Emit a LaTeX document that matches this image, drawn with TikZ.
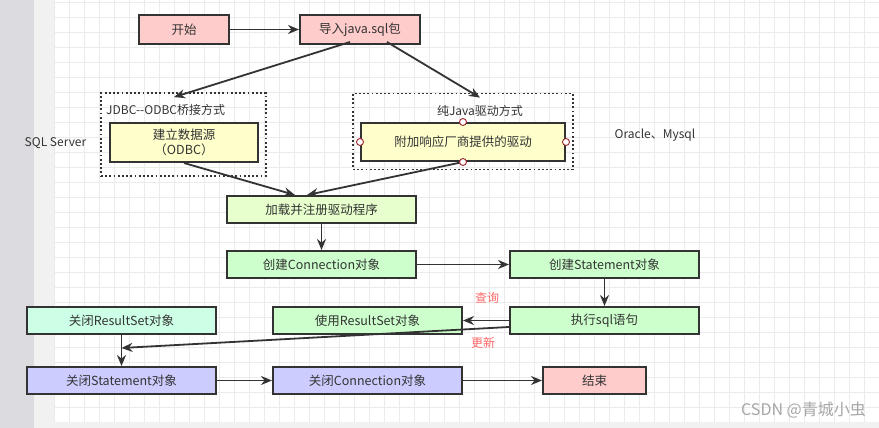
\documentclass[tikz,border=0pt]{standalone}
\usepackage{fontspec}
\setmainfont{Noto Sans CJK SC}
\usetikzlibrary{arrows.meta}

\definecolor{edge}{HTML}{333333}
\definecolor{ink}{HTML}{333333}
\definecolor{pinkbox}{HTML}{FFCCCC}
\definecolor{yellowbox}{HTML}{FFFFCC}
\definecolor{limebox}{HTML}{E6FFCC}
\definecolor{greenbox}{HTML}{CCFFCC}
\definecolor{mintbox}{HTML}{CCFFE6}
\definecolor{bluebox}{HTML}{CCCCFF}
\definecolor{redtext}{HTML}{FF6666}
\definecolor{portred}{HTML}{A0282D}
\definecolor{gridline}{HTML}{EBEBEB}
\definecolor{sidegray}{HTML}{DCDCE0}
\definecolor{paper}{HTML}{F1F1F1}

\begin{document}
\begin{tikzpicture}[x=1pt,y=-1pt,
  box/.style={draw=edge, line width=2pt, minimum width=189pt, minimum height=27pt,
    inner sep=0pt, text=ink, font=\fontsize{12.5}{15}\selectfont},
  frame/.style={draw=edge, line width=1.8pt, dash pattern=on 1.8pt off 2.4pt,
    inner sep=0pt},
  arr/.style={draw=edge, line width=1.8pt, -{Stealth[length=11pt,width=9pt]}},
  port/.style={draw=portred, fill=white, line width=0.9pt},
  note/.style={text=ink, font=\fontsize{12}{14}\selectfont, inner sep=0pt}]

% background
\useasboundingbox (0,0) rectangle (879,428);
\fill[white] (0,0) rectangle (879,428);
\foreach \x in {54.5,69.5,...,879} {
  \draw[gridline, line width=0.8pt] (\x,0) -- (\x,422);
}
\foreach \y in {2,17,...,422} {
  \draw[gridline, line width=0.8pt] (54.5,\y) -- (879,\y);
}
\fill[sidegray] (0,0) rectangle (34,428);
\fill[paper] (34,0) rectangle (54,428);
\fill[paper] (54,422) rectangle (879,428);

% dotted groups
\node[frame, minimum width=165pt, minimum height=83pt] (jdbc) at (183.5,134.5) {};
\node[frame, minimum width=220pt, minimum height=76pt] (pure) at (463,131.5) {};
\node[note, right] (jdbclbl) at (106,110) {JDBC{-}{-}ODBC桥接方式};
\node[note] (purelbl) at (480,111) {纯Java驱动方式};
\node[note] (sqlsrv) at (55.5,143) {SQL Server};
\node[note] (oracle) at (655,135) {Oracle、Mysql};

% steps
\node[box, fill=pinkbox, minimum width=90pt, minimum height=29pt] (start) at (184,29.5) {开始};
\node[box, fill=pinkbox, minimum width=120pt, minimum height=29pt] (imp) at (360,29.5) {导入java.sql包};
\node[box, fill=yellowbox, minimum width=148pt, minimum height=39pt, align=center] (odbc) at (184,142.5) {建立数据源\\（ODBC）};
\node[box, fill=yellowbox, minimum width=204pt, minimum height=38pt] (vendor) at (463,142) {附加响应厂商提供的驱动};
\node[box, fill=limebox] (load) at (321.5,209.5) {加载并注册驱动程序};
\node[box, fill=greenbox] (conn) at (321.5,264.5) {创建Connection对象};
\node[box, fill=greenbox] (stmt) at (604.5,264.5) {创建Statement对象};
\node[box, fill=greenbox] (exec) at (604.5,320.5) {执行sql语句};
\node[box, fill=greenbox] (use) at (367.5,320.5) {使用ResultSet对象};
\node[box, fill=mintbox] (closers) at (121.5,320.5) {关闭ResultSet对象};
\node[box, fill=bluebox] (closest) at (121.5,380.5) {关闭Statement对象};
\node[box, fill=bluebox] (closecon) at (367.5,380.5) {关闭Connection对象};
\node[box, fill=pinkbox, minimum width=103pt] (fin) at (594.5,380.5) {结束};
\coordinate (updend) at (121.5,348);

% connectors
\draw[arr] (start) -- (imp);
\draw[arr] ([xshift=-10pt,yshift=3pt]imp.south) -- ([xshift=-9.5pt,yshift=-5pt]jdbc.north);
\draw[arr] ([xshift=27pt,yshift=3pt]imp.south) -- ([xshift=17pt,yshift=-5pt]pure.north);
\draw[arr] (odbc.south) -- ([xshift=-26.5pt]load.north);
\draw[arr] (vendor.south) -- ([xshift=-14.5pt]load.north);
\draw[arr] (load) -- (conn);
\draw[arr] (conn) -- (stmt);
\draw[arr] (stmt) -- (exec);
\draw[arr] (exec) -- (use);
\draw[arr] ([yshift=-6.5pt]exec.west) -- (updend);
\draw[arr] (closers) -- (closest);
\draw[arr] (closest) -- (closecon);
\draw[arr] (closecon) -- (fin);
\foreach \a in {north,south,east,west} {
  \draw[port] (vendor.\a) circle (3.5pt);
}

% labels
\node[note, text=redtext] (query) at (487,298) {查询};
\node[note, text=redtext] (update) at (483,343) {更新};
\node[note, left, text=gray!70, font=\fontsize{16}{18}\selectfont] (mark) at (866,410) {CSDN @青城小虫};
\end{tikzpicture}
\end{document}
